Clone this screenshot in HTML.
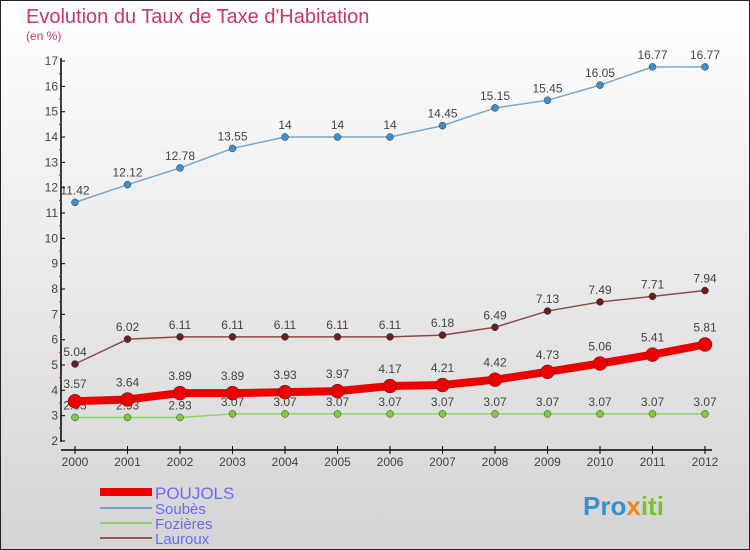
<!DOCTYPE html>
<html><head><meta charset="utf-8"><style>
body{margin:0}
#c{position:relative;width:750px;height:550px;overflow:hidden;font-family:"Liberation Sans",sans-serif}
</style></head><body>
<div id="c">
<svg width="750" height="550" xmlns="http://www.w3.org/2000/svg" id="svg">
<defs><linearGradient id="bg" x1="0" y1="0" x2="0" y2="1"><stop offset="0" stop-color="#ffffff"/><stop offset="1" stop-color="#d4d4d4"/></linearGradient></defs>
<rect x="0.5" y="0.5" width="749" height="549" fill="url(#bg)" stroke="#222"/>
<text x="26" y="23" font-size="20" fill="#c8366a">Evolution du Taux de Taxe d'Habitation</text>
<text x="26" y="40" font-size="12" fill="#c8366a">(en %)</text>
<g id="axes"></g><g id="series"></g>
<g>
<rect x="100" y="488" width="52" height="8" fill="#e00"/>
<text x="155" y="499" font-size="17" fill="#6a6aff">POUJOLS</text>
<line x1="100" y1="508" x2="152" y2="508" stroke="#7aa7c7" stroke-width="2"/>
<text x="155" y="514" font-size="15" fill="#6a6aff">Soubès</text>
<line x1="100" y1="523" x2="152" y2="523" stroke="#8fd46a" stroke-width="2"/>
<text x="155" y="529" font-size="15" fill="#6a6aff">Fozières</text>
<line x1="100" y1="538" x2="152" y2="538" stroke="#8a5a5a" stroke-width="2"/>
<text x="155" y="544" font-size="15" fill="#6a6aff">Lauroux</text>
</g>
<text x="583" y="515" font-size="26" font-weight="bold"><tspan fill="#3a8fd0">Pro</tspan><tspan fill="#f08a1c">x</tspan><tspan fill="#7abf2a">iti</tspan></text>
</svg>
</div>
<script>
const years=[2000,2001,2002,2003,2004,2005,2006,2007,2008,2009,2010,2011,2012];
const poujols=[3.57,3.64,3.89,3.89,3.93,3.97,4.17,4.21,4.42,4.73,5.06,5.41,5.81];
const soubes=[11.42,12.12,12.78,13.55,14,14,14,14.45,15.15,15.45,16.05,16.77,16.77];
const fozieres=[2.93,2.93,2.93,3.07,3.07,3.07,3.07,3.07,3.07,3.07,3.07,3.07,3.07];
const lauroux=[5.04,6.02,6.11,6.11,6.11,6.11,6.11,6.18,6.49,7.13,7.49,7.71,7.94];
const yTicks=[2,3,4,5,6,7,8,9,10,11,12,13,14,15,16,17];
const NS="http://www.w3.org/2000/svg";
const xS=i=>75+i*52.5;
const yS=v=>441-(v-2)*25.33;
function mk(t,a,p){const e=document.createElementNS(NS,t);for(const k in a)e.setAttribute(k,a[k]);p.appendChild(e);return e;}
const ax=document.getElementById('axes');
let l=mk('line',{x1:61,y1:58,x2:61,y2:442,stroke:'#000','stroke-width':1.5},ax);


l=mk('line',{x1:61,y1:450,x2:712,y2:450,stroke:'#000','stroke-width':1.5},ax);


yTicks.forEach(v=>{
 mk('line',{x1:61,y1:yS(v),x2:65,y2:yS(v),stroke:'#000'},ax);
 if(v<17)mk('line',{x1:59,y1:yS(v+0.5),x2:62,y2:yS(v+0.5),stroke:'#e00'},ax);
 const t=mk('text',{x:58,y:yS(v)+4,'font-size':12,fill:'#444','text-anchor':'end'},ax);t.textContent=v;
 
 
});
years.forEach((y,i)=>{
 mk('line',{x1:xS(i),y1:446,x2:xS(i),y2:454,stroke:'#000'},ax);
 const t=mk('text',{x:xS(i),y:466,'font-size':12,fill:'#444','text-anchor':'middle'},ax);t.textContent=y;
 
 
});
const sg=document.getElementById('series');
function draw(name,vals,color,w,r,dot,lblDy){
 const g=mk('g',{},sg);
 
 
 const p=mk('polyline',{points:vals.map((v,i)=>xS(i)+','+yS(v)).join(' '),fill:'none',stroke:color,'stroke-width':w,'stroke-linejoin':'round'},g);
 
 
 vals.forEach((v,i)=>{
  const c=mk('circle',{cx:xS(i),cy:yS(v),r:r,fill:dot,stroke:'#333','stroke-width':0.5},g);
  
  
  const t=mk('text',{x:xS(i),y:yS(v)+lblDy,'font-size':12,fill:'#444','text-anchor':'middle'},g);t.textContent=v;
  
  
 });
}
draw('fozieres',fozieres,'#8fd46a',1.5,3.5,'#7ccc3a',-8);
draw('lauroux',lauroux,'#8a4a4a',1.5,3.5,'#6a1e1e',-8);
draw('soubes',soubes,'#7aa7c7',1.5,3.5,'#3d8fd0',-8);
draw('poujols',poujols,'#e00',8,7,'#e00',-13);
</script>
</body></html>
